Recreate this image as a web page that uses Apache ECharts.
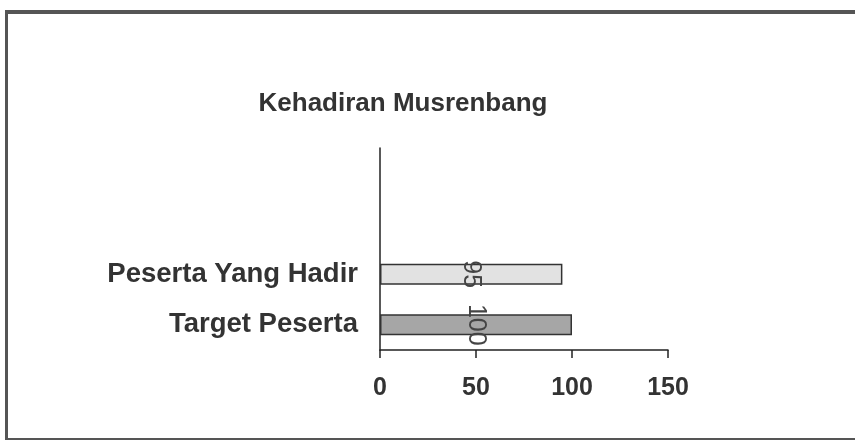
<!DOCTYPE html>
<html>
<head>
<meta charset="utf-8">
<script src="https://cdn.jsdelivr.net/npm/echarts@6/dist/echarts.min.js"></script>
<style>
  html, body { margin: 0; padding: 0; background: #fff; }
  #chart { width: 855px; height: 440px; }
  #frame {
    position: absolute; left: 5px; top: 10px; width: 860px; height: 424px;
    border-left: 3px solid #555; border-top: 4px solid #555; border-bottom: 3px solid #555;
    pointer-events: none;
  }
</style>
</head>
<body>
<div id="chart"></div>
<div id="frame"></div>
<script>
// bottom to top, two empty slots above
const categories = ['Target Peserta', 'Peserta Yang Hadir', '', '']
const values = [100, 95, null, null]
const barColors = ['#a6a6a6', '#e2e2e2']
const xTicks = [0, 50, 100, 150]

const font = '"Liberation Sans", Arial, sans-serif'
const chart = echarts.init(document.getElementById('chart'), null, { renderer: 'canvas' })

chart.setOption({
  animation: false,
  backgroundColor: '#fff',
  title: {
    text: 'Kehadiran Musrenbang',
    left: 398,
    textAlign: 'center',
    top: 86,
    textStyle: { fontFamily: font, fontSize: 26, fontWeight: 'bold', color: '#333' },
  },
  grid: { left: 380, right: 187, top: 148, bottom: 90 },
  xAxis: {
    type: 'value',
    min: xTicks[0],
    max: xTicks[xTicks.length - 1],
    interval: 50,
    axisLine: { show: true, lineStyle: { color: '#222', width: 1.5 } },
    axisTick: { show: true, length: 8, lineStyle: { color: '#222', width: 1.5 } },
    splitLine: { show: false },
    axisLabel: { fontFamily: font, fontSize: 25, fontWeight: 'bold', color: '#333', margin: 26 },
  },
  yAxis: {
    type: 'category',
    data: categories,
    axisLine: { show: true, lineStyle: { color: '#222', width: 1.5 } },
    axisTick: { show: false },
    axisLabel: { fontFamily: font, fontSize: 27.5, fontWeight: 'bold', color: '#333', margin: 22 },
  },
  series: [{
    type: 'bar',
    data: values.map((v, i) => ({ value: v, itemStyle: { color: barColors[i] || '#ccc' } })),
    barWidth: '42%',
    itemStyle: { borderColor: '#333', borderWidth: 1.5 },
    label: {
      show: true,
      position: 'inside',
      rotate: -90,
      fontFamily: font,
      fontSize: 25,
      color: '#444',
    },
  }],
})
</script>
</body>
</html>
